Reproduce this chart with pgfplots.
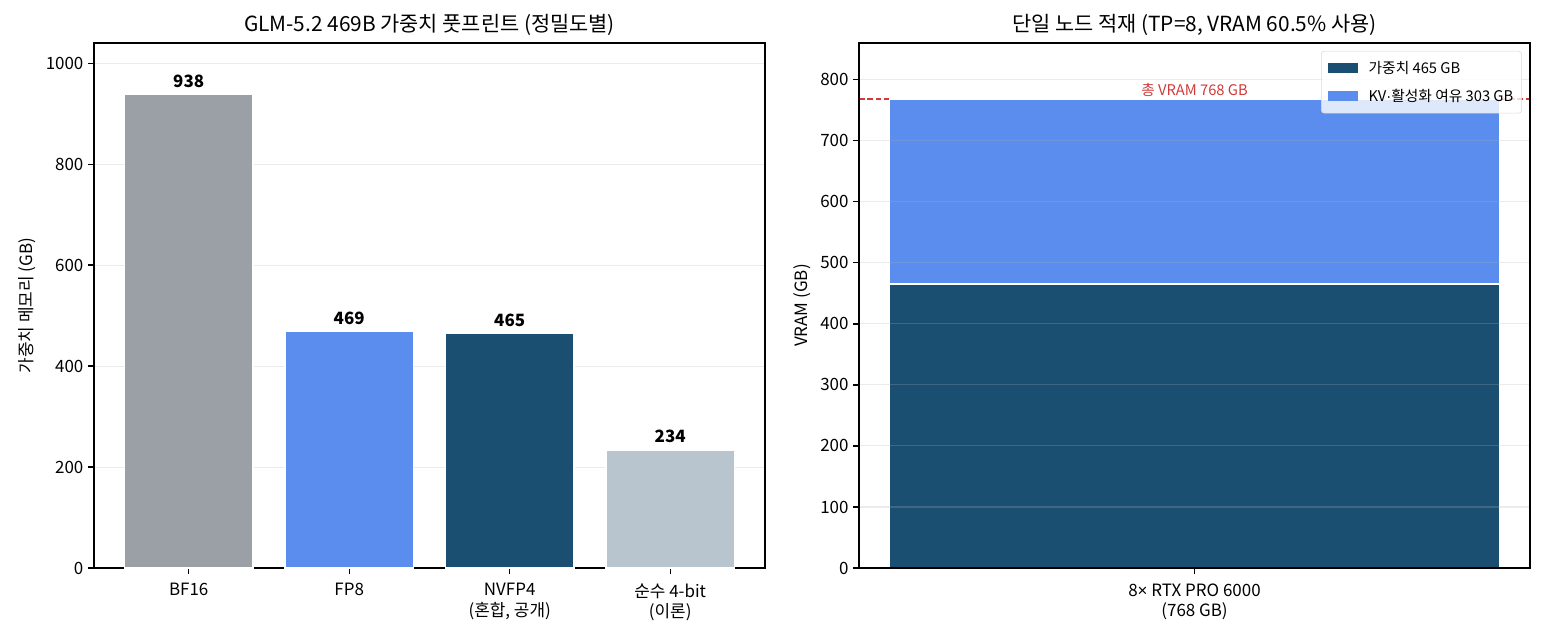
\documentclass[border=0pt]{standalone}
\usepackage{fontspec}
\setmainfont{Noto Sans CJK KR}
\newfontfamily\latinfont{Liberation Sans}
\usepackage{pgfplots}
\pgfplotsset{compat=1.18}

\definecolor{cGray}{HTML}{9AA0A6}
\definecolor{cBlue}{HTML}{5B8DEE}
\definecolor{cNavy}{HTML}{1B4F72}
\definecolor{cLight}{HTML}{B8C4CE}
\definecolor{cRed}{HTML}{D03A3A}
\definecolor{cGrid}{HTML}{B0B0B0}

\newcommand{\tickfont}{\fontsize{12.2}{15}\selectfont}
\newcommand{\smallfont}{\fontsize{10.6}{12.5}\selectfont}

\pgfplotsset{
  base/.style={
    scale only axis,
    width=483pt, height=378pt,
    ymin=0,
    ymajorgrids,
    grid style={color=cGrid, opacity=0.25, line width=0.8pt},
    axis line style={black, line width=0.95pt},
    major tick style={black, line width=0.95pt},
    major tick length=4.1pt,
    tick align=outside,
    xtick pos=bottom, ytick pos=left,
    tick label style={font=\tickfont},
    /pgf/number format/assume math mode=true,
    yticklabel style={/pgf/number format/1000 sep={}},
    xticklabel style={align=center, yshift=-3.5pt},
    label style={font=\tickfont},
    title style={font=\fontsize{15}{18}\selectfont, yshift=-4.5pt},
  },
}

\begin{document}
\begin{tikzpicture}
\useasboundingbox (-67.68pt,-49.68pt) rectangle (1043.92pt,408.96pt);

% left: footprint by precision
\begin{axis}[base, at={(0pt,0pt)},
  title={GLM-5.2 469B 가중치 풋프린트 (정밀도별)},
  ylabel={가중치 메모리 (GB)},
  xmin=-0.59, xmax=3.59, ymax=1040,
  ytick={0,200,400,600,800,1000},
  xtick={0,1,2,3},
  xticklabels={BF16, FP8, {NVFP4\\(혼합, 공개)}, {순수 4-bit\\(이론)}},
  ybar, bar width=0.8,
  nodes near coords,
  every node near coord/.append style={font=\bfseries\tickfont, black, yshift=1pt},
]
\addplot[bar shift=0pt, fill=cGray, draw=white, line width=1pt] coordinates {(0,938)};
\addplot[bar shift=0pt, fill=cBlue, draw=white, line width=1pt] coordinates {(1,469)};
\addplot[bar shift=0pt, fill=cNavy, draw=white, line width=1pt] coordinates {(2,465)};
\addplot[bar shift=0pt, fill=cLight, draw=white, line width=1pt] coordinates {(3,234)};
\end{axis}

% right: single node fit
\begin{axis}[base, at={(550.8pt,0pt)},
  title={단일 노드 적재 (TP=8, VRAM 60.5\% 사용)},
  ylabel={VRAM (GB)},
  xmin=-0.44, xmax=0.44, ymax=860,
  ytick={0,100,...,800},
  xtick={0},
  xticklabels={{8{\latinfont×} RTX PRO 6000\\(768 GB)}},
  ybar stacked, bar width=0.8,
  axis on top,
  legend style={at={(0.988,0.985)}, anchor=north east, font=\smallfont,
    draw=black!15, rounded corners=2pt, fill=white, fill opacity=0.8,
    text opacity=1, row sep=6pt, column sep=5pt, inner xsep=4pt, inner ysep=5pt},
  legend cell align=left,
  legend image code/.code={\fill[#1, sharp corners, fill opacity=1, draw opacity=0] (0pt,-3.5pt) rectangle (22pt,3.5pt);},
]
\addplot[fill=cNavy, draw=white, line width=1pt] coordinates {(0,465)};
\addlegendentry{가중치 465 GB}
\addplot[fill=cBlue, draw=white, line width=1pt] coordinates {(0,303)};
\addlegendentry{KV{\latinfont·}활성화 여유 303 GB}
\draw[cRed, line width=1.1pt, dash pattern=on 4pt off 2pt]
  (axis cs:-0.44,768) -- (axis cs:0.44,768);
\node[cRed, anchor=south, font=\smallfont, inner sep=1.5pt] at (axis cs:0,768) {총 VRAM 768 GB};
\end{axis}
\end{tikzpicture}
\end{document}
